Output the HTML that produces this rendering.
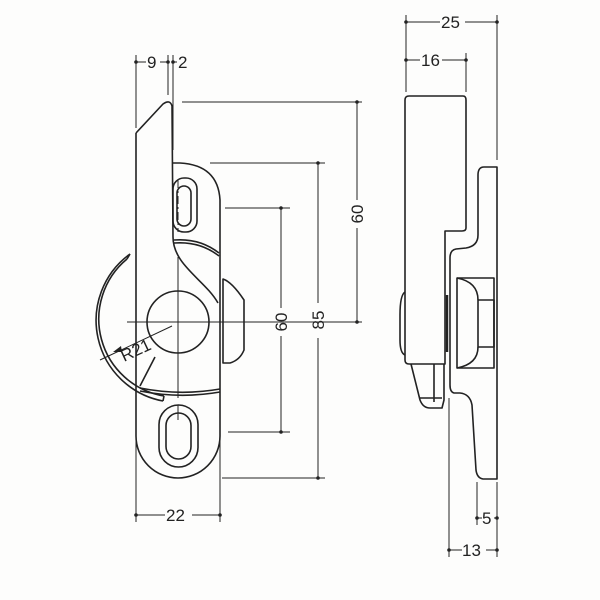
<!DOCTYPE html>
<html><head><meta charset="utf-8"><style>
html,body{margin:0;padding:0;background:#fff;}
svg{display:block}
text{font-family:"Liberation Sans",sans-serif;font-size:17px;fill:#222}
</style></head><body>
<svg width="600" height="600" viewBox="0 0 600 600" xmlns="http://www.w3.org/2000/svg">
<rect width="600" height="600" fill="#fdfdfc"/>
<g fill="none" stroke="#222" stroke-width="1.6" stroke-linejoin="round">
<path d="M136,133 L163,104 Q170,99 172,106 L173,237 C173,265 205,280 218,303"/>
<path d="M136,133 L136,436 A42,42 0 0 0 220,436 L220,200 Q218,165 180,163 L173,163"/>
<path d="M174,240 Q200,238 219,253"/>
<path d="M174,243 Q200,241 219,256"/>
<path d="M140,388 Q180,396 220,389"/>
<path d="M140,391 Q180,399 220,392"/>
<path d="M155,357 L140,386"/>
<circle cx="178" cy="322" r="31"/>
<path d="M223,279 Q232,282 244,300 L244,350 Q240,360 230,363 L223,363 Z"/>
<rect x="173" y="178" width="24" height="54" rx="11"/>
<rect x="177" y="186" width="14" height="40" rx="7"/>
<rect x="159" y="405" width="39" height="62" rx="19.5"/>
<rect x="166" y="413" width="25" height="46" rx="12.5"/>
<path d="M130,254 A82,82 0 0 0 163,401"/>
<path d="M127,259 A78,78 0 0 0 164,396"/>
<path d="M127,259 L130,254 M163,401 L164,396"/>
</g>
<g stroke="#222" stroke-width="1" fill="none">
<line x1="127" y1="322" x2="232" y2="322"/>
<line x1="178" y1="257" x2="178" y2="398"/>
<line x1="178" y1="180" x2="178" y2="232" stroke-dasharray="8,3,2,3"/>
<line x1="178" y1="405" x2="178" y2="420"/>
<line x1="100" y1="360" x2="172" y2="326"/>
<line x1="136" y1="55" x2="136" y2="128"/>
<line x1="168" y1="55" x2="168" y2="95"/>
<line x1="173" y1="55" x2="173" y2="150"/>
<line x1="136" y1="62" x2="146" y2="62"/><line x1="160" y1="62" x2="168" y2="62"/>
<line x1="173" y1="62" x2="177" y2="62"/>
<line x1="136" y1="440" x2="136" y2="522"/>
<line x1="220" y1="440" x2="220" y2="522"/>
<line x1="136" y1="515" x2="165" y2="515"/><line x1="192" y1="515" x2="220" y2="515"/>
<line x1="182" y1="102" x2="362" y2="102"/>
<line x1="232" y1="322" x2="362" y2="322"/>
<line x1="357" y1="102" x2="357" y2="200"/><line x1="357" y1="228" x2="357" y2="322"/>
<line x1="210" y1="163" x2="325" y2="163"/>
<line x1="222" y1="478" x2="325" y2="478"/>
<line x1="318" y1="163" x2="318" y2="303"/><line x1="318" y1="338" x2="318" y2="478"/>
<line x1="225" y1="208" x2="290" y2="208"/>
<line x1="228" y1="432" x2="290" y2="432"/>
<line x1="281" y1="208" x2="281" y2="308"/><line x1="281" y1="336" x2="281" y2="432"/>
<line x1="406" y1="15" x2="406" y2="92"/>
<line x1="497" y1="15" x2="497" y2="160"/>
<line x1="466" y1="53" x2="466" y2="92"/>
<line x1="406" y1="22" x2="440" y2="22"/><line x1="465" y1="22" x2="497" y2="22"/>
<line x1="406" y1="60" x2="420" y2="60"/><line x1="442" y1="60" x2="466" y2="60"/>
<line x1="477" y1="482" x2="477" y2="525"/>
<line x1="497" y1="482" x2="497" y2="557"/>
<line x1="449" y1="398" x2="449" y2="557"/>
<line x1="477" y1="518" x2="482" y2="518"/><line x1="494" y1="518" x2="497" y2="518"/>
<line x1="449" y1="550" x2="462" y2="550"/><line x1="486" y1="550" x2="497" y2="550"/>
</g>
<g fill="#222">
<circle cx="136" cy="62" r="1.8"/><circle cx="168" cy="62" r="1.8"/><circle cx="173" cy="62" r="1.8"/>
<circle cx="136" cy="515" r="1.8"/><circle cx="220" cy="515" r="1.8"/>
<circle cx="357" cy="102" r="1.8"/><circle cx="357" cy="322" r="1.8"/>
<circle cx="318" cy="163" r="1.8"/><circle cx="318" cy="478" r="1.8"/>
<circle cx="281" cy="208" r="1.8"/><circle cx="281" cy="432" r="1.8"/>
<circle cx="406" cy="22" r="1.8"/><circle cx="497" cy="22" r="1.8"/>
<circle cx="406" cy="60" r="1.8"/><circle cx="466" cy="60" r="1.8"/>
<circle cx="477" cy="518" r="1.8"/><circle cx="497" cy="518" r="1.8"/>
<circle cx="449" cy="550" r="1.8"/><circle cx="497" cy="550" r="1.8"/>
<path d="M113,352 L121,346 L122,352 Z"/>
</g>
<g fill="none" stroke="#222" stroke-width="1.6" stroke-linejoin="round">
<path d="M409,96 L463,96 Q466,96 466,100 L466,228 Q466,231 462,231 L445,231 L445,364 L409,364 Q405,364 405,360 L405,100 Q405,96 409,96 Z"/>
<path d="M405,292 Q400,295 400,315 L400,340 Q400,353 405,355"/>
<path d="M411,364 L420,400 Q423,408 430,408 L442,408 L444,400 L444,364"/>
<path d="M434,364 L434,402 M420,398 L442,398"/>
<path d="M478,175 Q478,167 484,167 L497,167 L497,479 L483,479 Q477,478 476,470 L472,405 Q470,394 460,393 L454,393 Q450,392 450,385 L450,258 Q450,250 456,249 L466,248 Q478,246 478,235 Z"/>
<rect x="457" y="278" width="37" height="90"/>
<rect x="478" y="300" width="16" height="47"/>
<path d="M457,278 Q478,282 478,300 M457,368 Q478,364 478,347"/>
<path d="M447,295 L447,352" stroke-width="2.5"/>
</g>
<text x="147" y="68">9</text>
<text x="178" y="68">2</text>
<text x="166" y="521">22</text>
<text x="441" y="28">25</text>
<text x="421" y="66">16</text>
<text x="482" y="524">5</text>
<text x="462" y="556">13</text>
<text transform="translate(363,214) rotate(-90)" text-anchor="middle">60</text>
<text transform="translate(324,320) rotate(-90)" text-anchor="middle">85</text>
<text transform="translate(287,322) rotate(-90)" text-anchor="middle">60</text>
<text transform="translate(124,362) rotate(-25)">R21</text>
</svg>
</body></html>
